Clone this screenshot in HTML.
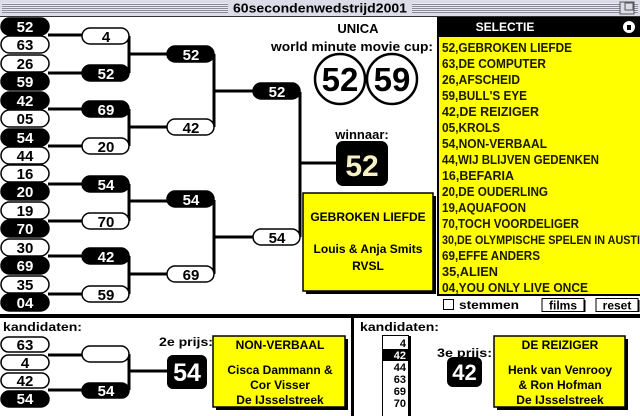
<!DOCTYPE html>
<html><head><meta charset="utf-8"><style>
html,body{margin:0;padding:0;background:#fff;}
svg{display:block;}
text{font-family:"Liberation Sans",sans-serif;font-weight:bold;}
</style></head><body>
<svg width="640" height="416" viewBox="0 0 640 416" xmlns="http://www.w3.org/2000/svg">
<defs>
<pattern id="stripes" width="4" height="2" patternUnits="userSpaceOnUse">
<rect width="4" height="2" fill="#e8e8f0"/><rect width="4" height="1" fill="#8a8a9a"/>
</pattern>
</defs>
<rect x="0" y="0" width="640" height="16" fill="#dcdce8"/>
<rect x="2" y="3" width="636" height="10" fill="url(#stripes)"/>
<rect x="228" y="0" width="184" height="16" fill="#dcdce8"/>
<text x="320" y="12.5" font-size="13" text-anchor="middle" fill="#000" textLength="174" lengthAdjust="spacingAndGlyphs">60secondenwedstrijd2001</text>
<rect x="620" y="2" width="14" height="12" fill="#dcdce8" stroke="#555" stroke-width="1"/>
<rect x="625" y="3" width="8" height="7" fill="none" stroke="#555" stroke-width="1"/>
<rect x="0" y="16" width="640" height="1" fill="#333"/>

<g stroke="#000" stroke-width="3" fill="none">
<line x1="48" y1="35" x2="84" y2="35"/>
<line x1="48" y1="73" x2="84" y2="73"/>
<line x1="48" y1="109" x2="84" y2="109"/>
<line x1="48" y1="146" x2="84" y2="146"/>
<line x1="48" y1="184" x2="84" y2="184"/>
<line x1="48" y1="221" x2="84" y2="221"/>
<line x1="48" y1="256" x2="84" y2="256"/>
<line x1="48" y1="294" x2="84" y2="294"/>
<line x1="129" y1="36" x2="129" y2="73"/><line x1="129" y1="54" x2="168" y2="54"/>
<line x1="129" y1="109" x2="129" y2="146"/><line x1="129" y1="127" x2="168" y2="127"/>
<line x1="129" y1="184" x2="129" y2="221"/><line x1="129" y1="201" x2="168" y2="201"/>
<line x1="129" y1="256" x2="129" y2="294"/><line x1="129" y1="274" x2="168" y2="274"/>
<line x1="214" y1="54" x2="214" y2="127"/><line x1="214" y1="91" x2="254" y2="91"/>
<line x1="214" y1="200" x2="214" y2="274"/><line x1="214" y1="237" x2="254" y2="237"/>
<line x1="300" y1="92" x2="300" y2="237"/><line x1="300" y1="163" x2="337" y2="163"/>
<line x1="48" y1="355" x2="84" y2="355"/>
<line x1="48" y1="390" x2="84" y2="390"/>
<line x1="129" y1="354" x2="129" y2="390"/><line x1="129" y1="371" x2="168" y2="371"/>
</g>

<g font-size="15" text-anchor="middle">
<g stroke="#000" stroke-width="1.5">
<rect x="1" y="18" width="48" height="17" rx="8.5" fill="#000"/>
<rect x="1" y="36" width="48" height="17" rx="8.5" fill="#fff"/>
<rect x="1" y="55" width="48" height="17" rx="8.5" fill="#fff"/>
<rect x="1" y="73" width="48" height="17" rx="8.5" fill="#000"/>
<rect x="1" y="92" width="48" height="17" rx="8.5" fill="#000"/>
<rect x="1" y="110" width="48" height="17" rx="8.5" fill="#fff"/>
<rect x="1" y="129" width="48" height="17" rx="8.5" fill="#000"/>
<rect x="1" y="147" width="48" height="17" rx="8.5" fill="#fff"/>
<rect x="1" y="165" width="48" height="17" rx="8.5" fill="#fff"/>
<rect x="1" y="183" width="48" height="17" rx="8.5" fill="#000"/>
<rect x="1" y="202" width="48" height="17" rx="8.5" fill="#fff"/>
<rect x="1" y="220" width="48" height="17" rx="8.5" fill="#000"/>
<rect x="1" y="239" width="48" height="17" rx="8.5" fill="#fff"/>
<rect x="1" y="257" width="48" height="17" rx="8.5" fill="#000"/>
<rect x="1" y="276" width="48" height="17" rx="8.5" fill="#fff"/>
<rect x="1" y="294" width="48" height="17" rx="8.5" fill="#000"/>
</g>
<text x="25" y="32" fill="#fff">52</text>
<text x="25" y="50" fill="#000">63</text>
<text x="25" y="69" fill="#000">26</text>
<text x="25" y="87" fill="#fff">59</text>
<text x="25" y="106" fill="#fff">42</text>
<text x="25" y="124" fill="#000">05</text>
<text x="25" y="143" fill="#fff">54</text>
<text x="25" y="161" fill="#000">44</text>
<text x="25" y="179" fill="#000">16</text>
<text x="25" y="197" fill="#fff">20</text>
<text x="25" y="216" fill="#000">19</text>
<text x="25" y="234" fill="#fff">70</text>
<text x="25" y="253" fill="#000">30</text>
<text x="25" y="271" fill="#fff">69</text>
<text x="25" y="290" fill="#000">35</text>
<text x="25" y="308" fill="#fff">04</text>

<g stroke="#000" stroke-width="1.5">
<rect x="82" y="28" width="47" height="16" rx="8" fill="#fff"/>
<rect x="82" y="65" width="47" height="16" rx="8" fill="#000"/>
<rect x="82" y="101" width="47" height="16" rx="8" fill="#000"/>
<rect x="82" y="138" width="47" height="16" rx="8" fill="#fff"/>
<rect x="82" y="176" width="47" height="16" rx="8" fill="#000"/>
<rect x="82" y="213" width="47" height="16" rx="8" fill="#fff"/>
<rect x="82" y="248" width="47" height="16" rx="8" fill="#000"/>
<rect x="82" y="286" width="47" height="16" rx="8" fill="#fff"/>
</g>
<text x="106" y="42" fill="#000">4</text>
<text x="106" y="79" fill="#fff">52</text>
<text x="106" y="115" fill="#fff">69</text>
<text x="106" y="152" fill="#000">20</text>
<text x="106" y="190" fill="#fff">54</text>
<text x="106" y="227" fill="#000">70</text>
<text x="106" y="262" fill="#fff">42</text>
<text x="106" y="300" fill="#000">59</text>

<g stroke="#000" stroke-width="1.5">
<rect x="167" y="46" width="47" height="16" rx="8" fill="#000"/>
<rect x="167" y="119" width="47" height="16" rx="8" fill="#fff"/>
<rect x="167" y="191" width="47" height="16" rx="8" fill="#000"/>
<rect x="167" y="266" width="47" height="16" rx="8" fill="#fff"/>
</g>
<text x="191" y="60" fill="#fff">52</text>
<text x="191" y="133" fill="#000">42</text>
<text x="191" y="205" fill="#fff">54</text>
<text x="191" y="280" fill="#000">69</text>

<g stroke="#000" stroke-width="1.5">
<rect x="253" y="83" width="47" height="16" rx="8" fill="#000"/>
<rect x="253" y="229" width="47" height="16" rx="8" fill="#fff"/>
</g>
<text x="277" y="97" fill="#fff">52</text>
<text x="277" y="243" fill="#000">54</text>

<g stroke="#000" stroke-width="1.5">
<rect x="1" y="337" width="48" height="15" rx="7.5" fill="#fff"/>
<rect x="1" y="355" width="48" height="15" rx="7.5" fill="#fff"/>
<rect x="1" y="373" width="48" height="15" rx="7.5" fill="#fff"/>
<rect x="1" y="391" width="48" height="16" rx="8" fill="#000"/>
<rect x="82" y="346" width="47" height="16" rx="8" fill="#fff"/>
<rect x="82" y="383" width="47" height="15" rx="7.5" fill="#000"/>
</g>
<text x="25" y="350" fill="#000">63</text>
<text x="25" y="368" fill="#000">4</text>
<text x="25" y="386" fill="#000">42</text>
<text x="25" y="404" fill="#fff">54</text>
<text x="106" y="396" fill="#fff">54</text>
</g>

<text x="358" y="33" font-size="13" text-anchor="middle">UNICA</text>
<text x="271" y="51" font-size="13" textLength="162" lengthAdjust="spacingAndGlyphs">world minute movie cup:</text>
<circle cx="340" cy="79" r="25" fill="#fff" stroke="#000" stroke-width="2.5"/>
<circle cx="392" cy="79" r="25" fill="#fff" stroke="#000" stroke-width="2.5"/>
<text x="340" y="91" font-size="33" text-anchor="middle">52</text>
<text x="392" y="91" font-size="33" text-anchor="middle">59</text>
<text x="362" y="139" font-size="13" text-anchor="middle">winnaar:</text>
<rect x="336" y="141" width="52" height="45" rx="7" fill="#000"/>
<text x="362" y="176" font-size="30" text-anchor="middle" fill="#f6f0c4">52</text>

<rect x="306" y="196" width="130" height="98" fill="#000"/>
<rect x="303" y="193" width="130" height="98" fill="#ffff00" stroke="#000" stroke-width="1.5"/>
<g font-size="12" text-anchor="middle">
<text x="368" y="221">GEBROKEN LIEFDE</text>
<text x="368" y="253">Louis &amp; Anja Smits</text>
<text x="368" y="270">RVSL</text>
</g>

<rect x="437" y="17" width="203" height="20" fill="#000"/>
<text x="505" y="31" font-size="12" text-anchor="middle" fill="#fff">SELECTIE</text>
<circle cx="629" cy="27" r="6" fill="#fff"/>
<rect x="627" y="25" width="4" height="5" fill="#000"/>
<rect x="437" y="37" width="203" height="259" fill="#000"/>
<rect x="439" y="37" width="201" height="257" fill="#ffff00"/>
<g font-size="13" fill="#1a1a00">
<text x="442" y="52" textLength="130" lengthAdjust="spacingAndGlyphs">52,GEBROKEN LIEFDE</text>
<text x="442" y="68" textLength="104" lengthAdjust="spacingAndGlyphs">63,DE COMPUTER</text>
<text x="442" y="84" textLength="78" lengthAdjust="spacingAndGlyphs">26,AFSCHEID</text>
<text x="442" y="100" textLength="85" lengthAdjust="spacingAndGlyphs">59,BULL'S EYE</text>
<text x="442" y="116" textLength="97" lengthAdjust="spacingAndGlyphs">42,DE REIZIGER</text>
<text x="442" y="132" textLength="58" lengthAdjust="spacingAndGlyphs">05,KROLS</text>
<text x="442" y="148" textLength="105" lengthAdjust="spacingAndGlyphs">54,NON-VERBAAL</text>
<text x="442" y="164" textLength="157" lengthAdjust="spacingAndGlyphs">44,WIJ BLIJVEN GEDENKEN</text>
<text x="442" y="180" textLength="72" lengthAdjust="spacingAndGlyphs">16,BEFARIA</text>
<text x="442" y="196" textLength="106" lengthAdjust="spacingAndGlyphs">20,DE OUDERLING</text>
<text x="442" y="212" textLength="84" lengthAdjust="spacingAndGlyphs">19,AQUAFOON</text>
<text x="442" y="228" textLength="137" lengthAdjust="spacingAndGlyphs">70,TOCH VOORDELIGER</text>
<text x="442" y="244" font-size="12" textLength="198" lengthAdjust="spacingAndGlyphs">30,DE OLYMPISCHE SPELEN IN AUSTI</text>
<text x="442" y="260" textLength="98" lengthAdjust="spacingAndGlyphs">69,EFFE ANDERS</text>
<text x="442" y="276" textLength="56" lengthAdjust="spacingAndGlyphs">35,ALIEN</text>
<text x="442" y="292" textLength="146" lengthAdjust="spacingAndGlyphs">04,YOU ONLY LIVE ONCE</text>
</g>
<rect x="443.5" y="299.5" width="10" height="10" fill="#fff" stroke="#000"/>
<text x="459" y="309" font-size="12" textLength="60" lengthAdjust="spacingAndGlyphs">stemmen</text>
<rect x="542" y="298.5" width="42" height="13" fill="#fff" stroke="#000"/>
<rect x="584" y="300" width="1.5" height="12" fill="#000"/>
<text x="563" y="309.5" font-size="12" text-anchor="middle">films</text>
<rect x="596" y="298.5" width="42" height="13" fill="#fff" stroke="#000"/>
<rect x="638" y="300" width="1.5" height="12" fill="#000"/>
<text x="617" y="309.5" font-size="12" text-anchor="middle">reset</text>

<rect x="0" y="314" width="640" height="4" fill="#000"/>
<rect x="351" y="318" width="3" height="98" fill="#000"/>

<text x="3" y="331" font-size="12" textLength="79" lengthAdjust="spacingAndGlyphs">kandidaten:</text>
<text x="159" y="346" font-size="12" textLength="54" lengthAdjust="spacingAndGlyphs">2e prijs:</text>
<rect x="167" y="355" width="40" height="34" rx="6" fill="#000"/>
<text x="187" y="381" font-size="25" text-anchor="middle" fill="#fff" font-weight="normal">54</text>
<rect x="216" y="339" width="132" height="71" fill="#000"/>
<rect x="213" y="336" width="132" height="71" fill="#ffff00" stroke="#000" stroke-width="1.5"/>
<g font-size="12" text-anchor="middle">
<text x="280" y="349">NON-VERBAAL</text>
<text x="280" y="374">Cisca Dammann &amp;</text>
<text x="280" y="389">Cor Visser</text>
<text x="280" y="404">De IJsselstreek</text>
</g>

<text x="360" y="331" font-size="12" textLength="79" lengthAdjust="spacingAndGlyphs">kandidaten:</text>
<rect x="383" y="336" width="28" height="80" fill="#000"/>
<rect x="382.5" y="335.5" width="26" height="81" fill="#fff" stroke="#000"/>
<rect x="383" y="349" width="25" height="12" fill="#000"/>
<g font-size="11" text-anchor="end">
<text x="406" y="347">4</text>
<text x="406" y="359" fill="#fff">42</text>
<text x="406" y="371">44</text>
<text x="406" y="383">63</text>
<text x="406" y="395">69</text>
<text x="406" y="407">70</text>
</g>
<text x="437" y="357" font-size="12" textLength="55" lengthAdjust="spacingAndGlyphs">3e prijs:</text>
<rect x="447" y="357" width="35" height="30" rx="6" fill="#000"/>
<text x="464.5" y="380" font-size="22" text-anchor="middle" fill="#fff">42</text>
<rect x="497" y="339" width="131" height="71" fill="#000"/>
<rect x="494" y="336" width="131" height="71" fill="#ffff00" stroke="#000" stroke-width="1.5"/>
<g font-size="12" text-anchor="middle">
<text x="560" y="349">DE REIZIGER</text>
<text x="560" y="374">Henk van Venrooy</text>
<text x="560" y="389">&amp; Ron Hofman</text>
<text x="560" y="404">De IJsselstreek</text>
</g>
</svg>
</body></html>
